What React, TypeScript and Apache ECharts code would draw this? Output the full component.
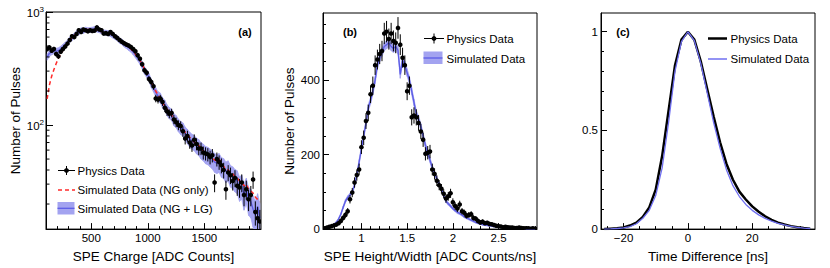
import React, { useEffect, useRef } from "react";
import * as echarts from "echarts";

// ---------- Panel (a): SPE charge (log y) ----------
const aBinStart = 110;
const aBinWidth = 20;
const aPhysics = [
  470, 485, 455, 470, 425, 405, 445, 470, 495, 525,
  565, 610, 600, 640, 690, 665, 700, 690, 675, 690,
  680, 685, 730, 700, 690, 645, 650, 640, 665, 640,
  610, 590, 565, 545, 530, 515, 505, 490, 470, 450,
  415, 385, 345, 305, 290, 255, 240, 220, 172, 168,
  172, 160, 142, 132, 126, 128, 112, 106, 100, 98,
  88, 76, 80, 70, 66, 74, 68, 62, 62, 57,
  56, 55, 52, 54, 31, 50, 47, 44, 40, 27,
  38, 36, 32, 34, 29, 28, 31, 24, 27, 22,
  24, 33, 17, 15, 14,
];
const aNGOnly = [
  170, 225, 270, 310, 350, 390, 425, 460, 495, 530,
  565, 595, 620, 645, 665, 680, 690, 695, 700, 700,
  695, 700, 690, 680, 670, 660, 650, 645, 640, 625,
  610, 590, 570, 550, 530, 510, 490, 470, 450, 425,
  400, 375, 345, 315, 290, 265, 240, 220, 200, 185,
  172, 158, 148, 138, 130, 122, 114, 108, 102, 98,
  93, 86, 82, 78, 74, 71, 68, 66, 62, 59,
  57, 55, 53, 51, 49, 48, 50, 45, 43, 41,
  40, 38, 37, 35, 34, 32, 31, 29, 30, 27,
  26, 25, 23, 22, 21,
];
const aNGLG = [
  400, 430, 445, 455, 450, 455, 470, 490, 510, 535,
  570, 590, 615, 650, 660, 690, 680, 700, 690, 695,
  700, 710, 700, 690, 675, 660, 655, 650, 640, 620,
  605, 585, 560, 545, 520, 505, 485, 470, 445, 420,
  395, 370, 340, 305, 285, 265, 235, 215, 195, 180,
  175, 158, 150, 136, 128, 124, 112, 108, 100, 95,
  92, 84, 80, 75, 72, 70, 66, 64, 60, 58,
  55, 54, 52, 50, 47, 46, 47, 43, 42, 39,
  40, 36, 35, 33, 32, 28, 29, 24, 27, 22,
  21, 18, 16, 19, 15,
];
const aBandScale = 1.3;
const aXMin = 100;
const aXMax = 2000;
const aYMin = 12;
const aYMax = 1000;
const aXTicks = [500, 1000, 1500];
const aXMinorTicks = [200, 300, 400, 600, 700, 800, 900, 1100, 1200, 1300, 1400, 1600, 1700, 1800, 1900];
const aYMinorTicks = [20, 30, 40, 50, 60, 70, 80, 90, 200, 300, 400, 500, 600, 700, 800, 900];

// ---------- Panel (b): SPE height/width ----------
const bBinStart = 0.6;
const bBinWidth = 0.025;
const bPhysics = [
  2, 4, 6, 8, 10, 12, 16, 22, 30, 38,
  48, 80, 98, 125, 145, 160, 220, 245, 290, 312,
  362, 385, 440, 455, 470, 478, 525, 530, 510, 525,
  505, 500, 540, 495, 460, 440, 370, 385, 300, 305,
  300, 285, 262, 240, 202, 205, 208, 160, 148, 130,
  118, 108, 95, 82, 88, 96, 72, 62, 55, 66,
  48, 44, 36, 38, 40, 30, 28, 22, 18, 20,
  16, 17, 14, 13, 11, 9, 8, 7, 5, 6,
  5, 4, 4, 3, 3, 4, 3, 2, 2, 2,
  1, 2, 1,
];
const bSim = [
  2, 4, 6, 9, 13, 18, 27, 40, 58, 75,
  85, 92, 100, 118, 145, 180, 215, 250, 285, 325,
  345, 370, 400, 440, 460, 475, 490, 495, 500, 490,
  485, 490, 480, 415, 455, 440, 420, 400, 370, 340,
  310, 295, 275, 250, 225, 205, 185, 165, 150, 135,
  120, 108, 90, 75, 68, 62, 55, 50, 45, 42,
  38, 33, 30, 27, 24, 21, 18, 16, 14, 12,
  11, 10, 9, 8, 7, 6, 5, 5, 4, 6,
  4, 3, 3, 3, 2, 2, 2, 2, 1, 1,
  1, 1, 1,
];
const bBandScale = 0.5;
const bErrScale = 1.25;
const bXMin = 0.58;
const bXMax = 2.92;
const bYMin = 0;
const bYMax = 580;
const bXTicks = [1, 1.5, 2, 2.5];
const bXMinorTicks = [0.6, 0.7, 0.8, 0.9, 1.1, 1.2, 1.3, 1.4, 1.6, 1.7, 1.8, 1.9, 2.1, 2.2, 2.3, 2.4, 2.6, 2.7, 2.8, 2.9];
const bYTicks = [0, 200, 400];
const bYMinorTicks = [50, 100, 150, 250, 300, 350, 450, 500, 550];

// ---------- Panel (c): time difference ----------
const cX = [-26, -24, -22, -20, -18, -16, -14, -12, -10, -8, -6, -4, -2, 0, 2, 4, 6, 8, 10, 12, 14, 16, 18, 20, 22, 24, 26, 28, 30, 32, 34, 36, 38];
const cPhysics = [
  0, 0.002, 0.004, 0.008, 0.018, 0.033, 0.062, 0.11, 0.2, 0.37,
  0.6, 0.83, 0.96, 1.0, 0.96, 0.85, 0.71, 0.57, 0.44, 0.33,
  0.25, 0.19, 0.15, 0.115, 0.088, 0.065, 0.047, 0.033, 0.023, 0.015,
  0.009, 0.005, 0.002,
];
const cSim = [
  0, 0.001, 0.003, 0.006, 0.013, 0.027, 0.055, 0.095, 0.17, 0.31,
  0.54, 0.8, 0.95, 1.0, 0.955, 0.84, 0.69, 0.54, 0.41, 0.3,
  0.22, 0.165, 0.125, 0.095, 0.072, 0.054, 0.04, 0.029, 0.021, 0.014,
  0.009, 0.005, 0.003,
];
const cXMin = -27;
const cXMax = 39.5;
const cYMin = 0;
const cYMax = 1.095;
const cXTicks = [-20, 0, 20];
const cXMinorTicks = [-25, -15, -10, -5, 5, 10, 15, 25, 30, 35];
const cYTicks = [0, 0.5, 1];
const cYMinorTicks = [0.1, 0.2, 0.3, 0.4, 0.6, 0.7, 0.8, 0.9];

const FONT = '"Liberation Sans", Arial, Helvetica, sans-serif';
const BAND = "#a3a3f0";
const BLUE = "#5c5ce6";
const RED = "#ff2a2a";

function buildOption() {
  const aX = aPhysics.map((_, i) => aBinStart + i * aBinWidth);
  const bX = bPhysics.map((_, i) => Math.round((bBinStart + i * bBinWidth) * 10000) / 10000);

  const labelStyle = { fontSize: 11.5, color: "#000", fontFamily: FONT, margin: 3 };
  const nameStyle = { fontSize: 13.5, color: "#000", fontFamily: FONT };
  const line = { show: true, onZero: false, lineStyle: { color: "#000", width: 1 } };
  const plainFmt = (v: number) => String(v);

  const majorX = (grid: number, min: number, max: number, ticks: number[], name: string, gap: number, fmt: any) => ({
    type: "value", gridIndex: grid, position: "bottom", min, max,
    axisLine: line, splitLine: { show: false },
    axisTick: { show: true, inside: true, length: 6, customValues: ticks, lineStyle: { color: "#000" } },
    axisLabel: { ...labelStyle, customValues: ticks, formatter: fmt },
    name, nameLocation: "middle", nameGap: gap, nameTextStyle: nameStyle,
  });
  const minorX = (grid: number, min: number, max: number, ticks: number[]) => ({
    type: "value", gridIndex: grid, position: "bottom", min, max,
    axisLine: { show: false, onZero: false }, splitLine: { show: false }, axisLabel: { show: false },
    axisTick: { show: true, inside: true, length: 3, customValues: ticks, lineStyle: { color: "#000" } },
  });
  const majorY = (grid: number, min: number, max: number, ticks: number[], name: string, gap: number) => ({
    type: "value", gridIndex: grid, position: "left", min, max,
    axisLine: line, splitLine: { show: false },
    axisTick: { show: true, inside: true, length: 6, customValues: ticks, lineStyle: { color: "#000" } },
    axisLabel: { ...labelStyle, customValues: ticks, formatter: plainFmt },
    name, nameLocation: "middle", nameGap: gap, nameTextStyle: nameStyle,
  });
  const minorY = (grid: number, min: number, max: number, ticks: number[]) => ({
    type: "value", gridIndex: grid, position: "left", min, max,
    axisLine: { show: false, onZero: false }, splitLine: { show: false }, axisLabel: { show: false },
    axisTick: { show: true, inside: true, length: 3, customValues: ticks, lineStyle: { color: "#000" } },
  });

  const errRender = (params: any, api: any) => {
    const x = api.value(0);
    const y = api.value(1);
    const e = api.value(2);
    const hw = api.value(3);
    const c = api.coord([x, y]);
    const lo = api.coord([x, y - e]);
    const hi = api.coord([x, y + e]);
    const l = api.coord([x - hw, y]);
    const r = api.coord([x + hw, y]);
    return {
      type: "group",
      children: [
        { type: "line", shape: { x1: c[0], y1: lo[1], x2: c[0], y2: hi[1] }, style: { stroke: "#000", lineWidth: 1 } },
        { type: "line", shape: { x1: l[0], y1: c[1], x2: r[0], y2: c[1] }, style: { stroke: "#000", lineWidth: 1 } },
        { type: "circle", shape: { cx: c[0], cy: c[1], r: 2.3 }, style: { fill: "#000" } },
      ],
    };
  };

  const bandRender = (params: any, api: any) => {
    const p1 = api.coord([api.value(0), api.value(1)]);
    const p2 = api.coord([api.value(3), api.value(4)]);
    const p3 = api.coord([api.value(3), api.value(5)]);
    const p4 = api.coord([api.value(0), api.value(2)]);
    return {
      type: "polygon",
      shape: { points: [p1, p2, p3, p4] },
      style: { fill: BAND, stroke: BAND, lineWidth: 0.7 },
    };
  };

  const bandData = (xs: number[], lo: number[], hi: number[]) => {
    const out: number[][] = [];
    for (let i = 0; i < xs.length - 1; i++) {
      out.push([xs[i], lo[i], hi[i], xs[i + 1], lo[i + 1], hi[i + 1]]);
    }
    return out;
  };

  const aLo = aNGLG.map((v) => v - aBandScale * Math.sqrt(v));
  const aHi = aNGLG.map((v) => v + aBandScale * Math.sqrt(v));
  const bLo = bSim.map((v) => Math.max(0, v - bBandScale * Math.sqrt(v)));
  const bHi = bSim.map((v) => v + bBandScale * Math.sqrt(v));

  const noSym = { symbol: "none", showSymbol: false, silent: true };

  const series: any[] = [
    // ----- (a) -----
    {
      type: "custom", xAxisIndex: 0, yAxisIndex: 0, z: 1, silent: true, clip: true,
      data: bandData(aX, aLo, aHi),
      encode: { x: [0, 3], y: [1, 2, 4, 5] },
      renderItem: bandRender,
    },
    {
      type: "line", xAxisIndex: 0, yAxisIndex: 0, ...noSym, z: 2,
      data: aX.map((x, i) => [x, aNGLG[i]]),
      lineStyle: { color: BLUE, width: 1.3 },
    },
    {
      type: "line", xAxisIndex: 0, yAxisIndex: 0, ...noSym, z: 3,
      data: aX.map((x, i) => [x, aNGOnly[i]]),
      lineStyle: { color: RED, width: 1.5, type: [4, 3] },
    },
    {
      type: "custom", xAxisIndex: 0, yAxisIndex: 0, z: 4, silent: true, clip: true,
      data: aX.map((x, i) => [x, aPhysics[i], Math.sqrt(aPhysics[i]), aBinWidth / 2]),
      encode: { x: 0, y: 1 },
      renderItem: errRender,
    },
    {
      type: "custom", xAxisIndex: 0, yAxisIndex: 0, z: 5, silent: true, clip: false,
      data: aYMinorTicks.map((v) => [aXMin, v]),
      encode: { x: 0, y: 1 },
      renderItem: (params: any, api: any) => {
        const p = api.coord([api.value(0), api.value(1)]);
        return { type: "line", shape: { x1: p[0], y1: p[1], x2: p[0] + 3.5, y2: p[1] }, style: { stroke: "#000", lineWidth: 1 } };
      },
    },
    // ----- (b) -----
    {
      type: "custom", xAxisIndex: 2, yAxisIndex: 1, z: 1, silent: true, clip: true,
      data: bandData(bX, bLo, bHi),
      encode: { x: [0, 3], y: [1, 2, 4, 5] },
      renderItem: bandRender,
    },
    {
      type: "line", xAxisIndex: 2, yAxisIndex: 1, ...noSym, z: 2,
      data: bX.map((x, i) => [x, bSim[i]]),
      lineStyle: { color: BLUE, width: 1.3 },
    },
    {
      type: "custom", xAxisIndex: 2, yAxisIndex: 1, z: 4, silent: true, clip: true,
      data: bX.map((x, i) => [x, bPhysics[i], bErrScale * Math.sqrt(bPhysics[i]), bBinWidth / 2]),
      encode: { x: 0, y: 1 },
      renderItem: errRender,
    },
    // ----- (c) -----
    {
      type: "line", xAxisIndex: 4, yAxisIndex: 3, ...noSym, z: 2,
      data: cX.map((x, i) => [x, cPhysics[i]]),
      lineStyle: { color: "#000", width: 2.5 },
    },
    {
      type: "line", xAxisIndex: 4, yAxisIndex: 3, ...noSym, z: 3,
      data: cX.map((x, i) => [x, cSim[i]]),
      lineStyle: { color: "#6f6ff0", width: 1.3 },
    },
  ];

  const txt = (text: string, x: number, y: number, extra: any = {}) => ({
    type: "text", silent: true, z: 100,
    style: { text, x, y, fill: "#000", fontSize: 11.5, fontFamily: FONT, align: "left", verticalAlign: "middle", ...extra },
  });
  const ln = (x1: number, y1: number, x2: number, y2: number, stroke: string, lineWidth: number, extra: any = {}) => ({
    type: "line", silent: true, z: 100, shape: { x1, y1, x2, y2 }, style: { stroke, lineWidth, ...extra },
  });

  const graphic: any[] = [
    // legend (a)
    ln(58, 170.5, 75, 170.5, "#000", 1),
    ln(66.5, 166, 66.5, 175, "#000", 1),
    { type: "circle", silent: true, z: 100, shape: { cx: 66.5, cy: 170.5, r: 2.4 }, style: { fill: "#000" } },
    txt("Physics Data", 77.5, 170.5),
    ln(58, 190, 75, 190, RED, 1.5, { lineDash: [4, 3] }),
    txt("Simulated Data (NG only)", 77.5, 190),
    { type: "rect", silent: true, z: 100, shape: { x: 57.5, y: 202, width: 17, height: 12.5 }, style: { fill: BAND } },
    ln(57.5, 208.3, 74.5, 208.3, BLUE, 1.3),
    txt("Simulated Data (NG + LG)", 77.5, 208.5),
    // legend (b)
    ln(424, 38.5, 444, 38.5, "#000", 1),
    ln(434, 33.5, 434, 43.5, "#000", 1),
    { type: "circle", silent: true, z: 100, shape: { cx: 434, cy: 38.5, r: 2.4 }, style: { fill: "#000" } },
    txt("Physics Data", 446.5, 39),
    { type: "rect", silent: true, z: 100, shape: { x: 423.5, y: 51.5, width: 19, height: 12.5 }, style: { fill: BAND } },
    ln(423.5, 58, 442.5, 58, BLUE, 1.3),
    txt("Simulated Data", 446.5, 58.5),
    // legend (c)
    ln(708, 38.5, 727, 38.5, "#000", 2.5),
    txt("Physics Data", 730.5, 38.5),
    ln(708, 59, 727, 59, "#6f6ff0", 1.5),
    txt("Simulated Data", 730.5, 59),
    // panel tags
    txt("(a)", 245, 31.5, { align: "center", fontWeight: "bold", fontSize: 11 }),
    txt("(b)", 350, 32, { align: "center", fontWeight: "bold", fontSize: 11 }),
    txt("(c)", 623, 31.5, { align: "center", fontWeight: "bold", fontSize: 11 }),
  ];

  const gridBase = { show: true, borderColor: "#000", borderWidth: 1, backgroundColor: "transparent", containLabel: false };

  return {
    animation: false,
    backgroundColor: "#fff",
    textStyle: { fontFamily: FONT },
    grid: [
      { ...gridBase, left: 46, top: 12, width: 215, height: 222 },
      { ...gridBase, left: 323, top: 13, width: 214, height: 220 },
      { ...gridBase, left: 601, top: 13, width: 214, height: 220 },
    ],
    xAxis: [
      majorX(0, aXMin, aXMax, aXTicks, "SPE Charge [ADC Counts]", 16, plainFmt),
      minorX(0, aXMin, aXMax, aXMinorTicks),
      majorX(1, bXMin, bXMax, bXTicks, "SPE Height/Width [ADC Counts/ns]", 17, plainFmt),
      minorX(1, bXMin, bXMax, bXMinorTicks),
      majorX(2, cXMin, cXMax, cXTicks, "Time Difference [ns]", 17, (v: number) => String(v).replace("-", "\u2212")),
      minorX(2, cXMin, cXMax, cXMinorTicks),
    ],
    yAxis: [
      {
        type: "log", logBase: 10, gridIndex: 0, position: "left", min: aYMin, max: aYMax,
        axisLine: line, splitLine: { show: false }, minorTick: { show: false },
        axisTick: { show: true, inside: true, length: 7, lineStyle: { color: "#000" } },
        axisLabel: {
          margin: 2, color: "#000", fontFamily: FONT, showMinLabel: false,
          formatter: (v: number) => {
            if (Math.abs(v - 100) < 1e-6) return "{b|10}{s|2}";
            if (Math.abs(v - 1000) < 1e-6) return "{b|10}{s|3}";
            return "";
          },
          rich: {
            b: { fontSize: 11.5, fontFamily: FONT, color: "#000", lineHeight: 14, verticalAlign: "bottom" },
            s: { fontSize: 8, fontFamily: FONT, color: "#000", lineHeight: 9, verticalAlign: "top" },
          },
        },
        name: "Number of Pulses", nameLocation: "middle", nameGap: 24, nameTextStyle: nameStyle,
      },
      majorY(1, bYMin, bYMax, bYTicks, "Number of Pulses", 23),
      minorY(1, bYMin, bYMax, bYMinorTicks),
      majorY(2, cYMin, cYMax, cYTicks, "", 20),
      minorY(2, cYMin, cYMax, cYMinorTicks),
    ],
    series,
    graphic,
  };
}

export default function App() {
  const ref = useRef<HTMLDivElement>(null);
  useEffect(() => {
    if (!ref.current) return;
    const chart = echarts.init(ref.current, undefined, { renderer: "svg" });
    chart.setOption(buildOption() as any);
    return () => chart.dispose();
  }, []);
  return (
    <div
      ref={ref}
      style={{ position: "fixed", left: 0, top: 0, width: 830, height: 268, background: "#fff" }}
    />
  );
}
